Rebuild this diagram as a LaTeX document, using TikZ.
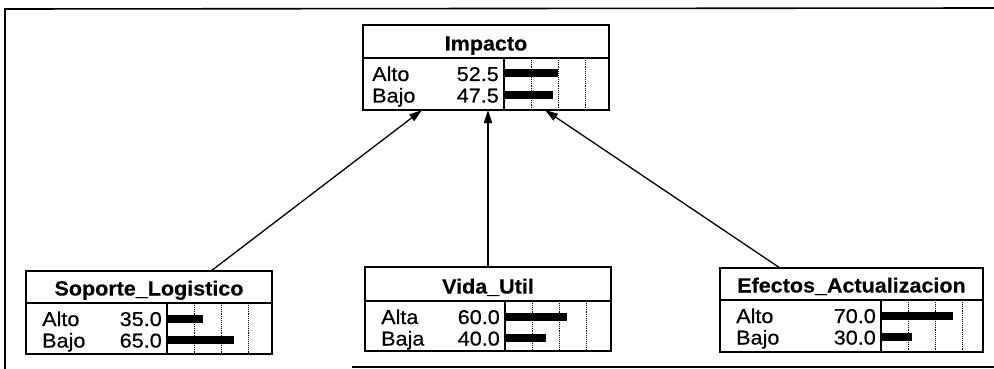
\documentclass[tikz,border=0pt]{standalone}
\usepackage{fontspec}
\setmainfont{Liberation Sans}
\newfontfamily\bntitlefont[FakeStretch=1.05,FakeBold=0.3]{Liberation Sans}
\newfontfamily\bnstatefont[FakeStretch=1.08,FakeBold=0.5]{Liberation Sans}
\usetikzlibrary{arrows.meta,calc}

\tikzset{
  bnframe/.style={draw, line width=1.6pt, rectangle, inner sep=0pt, outer sep=0pt},
  bnrule/.style={line width=1.3pt},
  bngrid/.style={line width=0.9pt, densely dotted},
  bntitle/.style={inner sep=0pt, font=\bntitlefont\bfseries\fontsize{20.5}{24}\selectfont},
  bnstate/.style={inner sep=0pt, font=\bnstatefont\fontsize{20}{24}\selectfont},
  bnarrow/.style={line width=1.3pt, -{Triangle[length=13pt,width=8pt]}},
  bnborder/.style={line width=1.6pt}
}

% #1 name, #2 left, #3 top, #4 width, #5 height, #6 title rule, #7 bar divider, #8 title
\newcommand\bnode[8]{%
  \node[bnframe, minimum width=#4pt, minimum height=#5pt, anchor=north west] (#1) at (#2,#3) {};
  \begin{scope}[shift={(#1.north west)}]
    \draw[bnrule] (0,#6) -- (#4,#6);
    \draw[bnrule] (#7,#6) -- (#7,#5);
    \foreach \g in {27,54,81} \draw[bngrid] (#7+\g,#6) -- (#7+\g,#5);
    \node[bntitle, anchor=base] (#1-title) at (#4/2,#6-7.5) {#8};
  \end{scope}}

% #1 node, #2 row id, #3 label inset, #4 title rule, #5 divider, #6 baseline below rule, #7 label, #8 value
\newcommand\bnstate[8]{%
  \begin{scope}[shift={(#1.north west)}]
    \fill (#5,#4+#6-11.5) rectangle (#5+1.03*#8,#4+#6-3.5);
    \node[bnstate, anchor=base west] (#1-#2) at (#3,#4+#6) {#7};
    \node[bnstate, anchor=base east] (#1-#2v) at (#5-5,#4+#6) {#8};
  \end{scope}}

\begin{document}
\begin{tikzpicture}[x=1pt, y=-1pt]
  \useasboundingbox (0,0) rectangle (994,369);

  % surrounding frame
  \draw[bnborder] (994,8) -- (5,9) -- (5,369);
  \draw[bnborder] (352,367) -- (994,367);

  % nodes
  \bnode{imp}{363}{25}{246}{85}{33}{141}{Impacto}
  \bnstate{imp}{a}{9}{33}{141}{23}{Alto}{52.5}
  \bnstate{imp}{b}{9}{33}{141}{44.5}{Bajo}{47.5}

  \bnode{sop}{26}{271}{246}{83}{32}{141}{Soporte\_Logistico}
  \bnstate{sop}{a}{16}{32}{141}{23}{Alto}{35.0}
  \bnstate{sop}{b}{16}{32}{141}{44.5}{Bajo}{65.0}

  \bnode{vid}{365}{267}{246}{84}{34}{140}{Vida\_Util}
  \bnstate{vid}{a}{16}{34}{140}{23}{Alta}{60.0}
  \bnstate{vid}{b}{16}{34}{140}{44.5}{Baja}{40.0}

  \bnode{efe}{720}{268}{263}{84}{32}{161}{Efectos\_Actualizacion}
  \bnstate{efe}{a}{16}{32}{161}{23}{Alto}{70.0}
  \bnstate{efe}{b}{16}{32}{161}{44.5}{Bajo}{30.0}

  % connector ends
  \coordinate (imp-in1) at ($(imp.south west)+(59,0)$);
  \coordinate (imp-in2) at ($(imp.south west)+(125,0)$);
  \coordinate (imp-in3) at ($(imp.south west)+(182,0)$);
  \coordinate (sop-out) at ($(sop.north west)+(185,0)$);
  \coordinate (vid-out) at ($(vid.north west)+(123,0)$);
  \coordinate (efe-out) at ($(efe.north west)+(60,0)$);

  \draw[bnarrow] (sop-out) -- (imp-in1);
  \draw[bnarrow] (vid-out) -- (imp-in2);
  \draw[bnarrow] (efe-out) -- (imp-in3);
\end{tikzpicture}
\end{document}
